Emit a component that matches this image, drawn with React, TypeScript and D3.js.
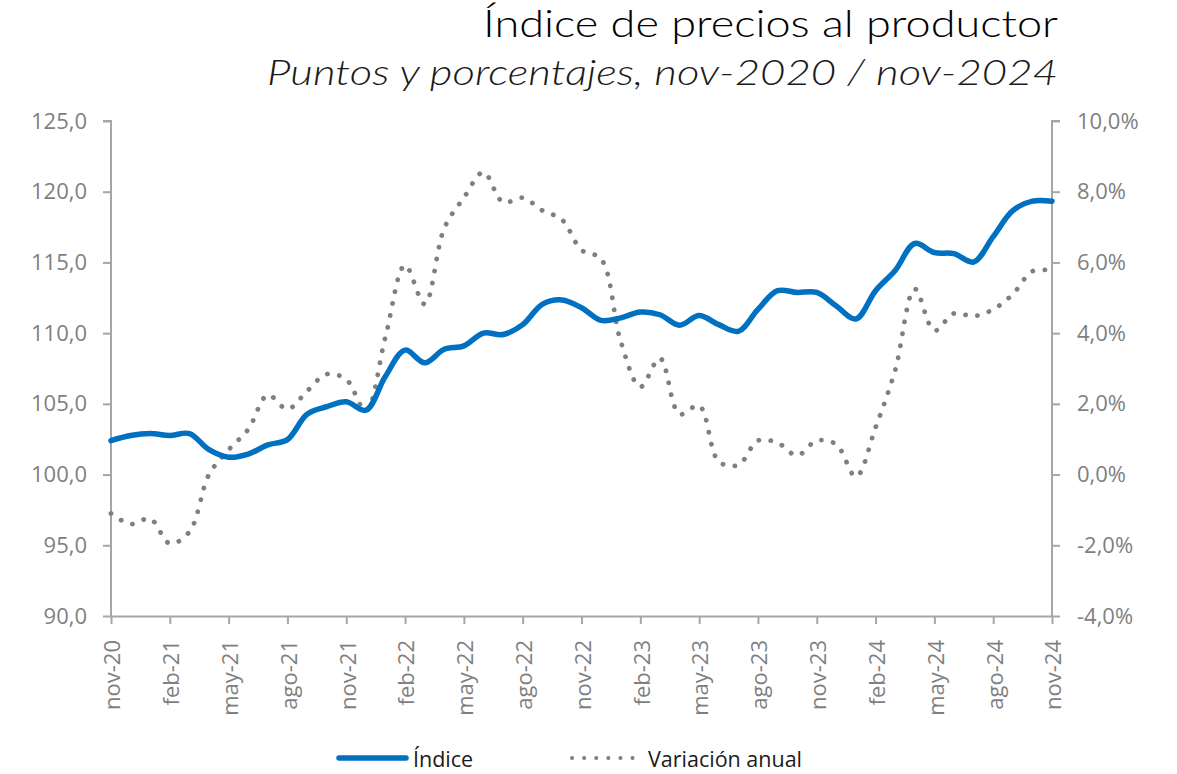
import React, { useEffect, useRef } from 'react';
import * as d3 from 'd3';

const WIDTH = 1177;
const HEIGHT = 774;
const PLOT = { left: 111, right: 1052, top: 121, bottom: 616 };
const BLUE = "#0070C0";
const GREY = "#7F7F7F";
const AXIS = "#A6A6A6";
const FONT = "'Open Sans', sans-serif";
const LEGEND_Y = 758;

const MONTHS = [
    "nov-20", "dic-20", "ene-21", "feb-21", "mar-21", "abr-21", "may-21", "jun-21", "jul-21", "ago-21", "sep-21", "oct-21",
    "nov-21", "dic-21", "ene-22", "feb-22", "mar-22", "abr-22", "may-22", "jun-22", "jul-22", "ago-22", "sep-22", "oct-22",
    "nov-22", "dic-22", "ene-23", "feb-23", "mar-23", "abr-23", "may-23", "jun-23", "jul-23", "ago-23", "sep-23", "oct-23",
    "nov-23", "dic-23", "ene-24", "feb-24", "mar-24", "abr-24", "may-24", "jun-24", "jul-24", "ago-24", "sep-24", "oct-24",
    "nov-24",
];

const INDICE = [
    102.4, 102.76, 102.9, 102.76, 102.9, 101.76, 101.23, 101.45, 102.1, 102.47, 104.27, 104.8,
    105.15, 104.55, 106.95, 108.8, 107.9, 108.86, 109.1, 110.0, 109.9, 110.6, 112.04, 112.35,
    111.8, 110.9, 111.08, 111.49, 111.3, 110.56, 111.25, 110.6, 110.13, 111.68, 113.0, 112.88,
    112.88, 111.92, 111.0, 113.0, 114.43, 116.34, 115.7, 115.62, 115.03, 116.82, 118.66, 119.33,
    119.33,
];

const VARIACION = [
    -1.1, -1.4, -1.25, -1.95, -1.62, 0.0, 0.7, 1.28, 2.25, 1.85, 2.36, 2.84,
    2.69, 1.8, 3.9, 5.92, 4.82, 6.97, 7.83, 8.55, 7.7, 7.83, 7.47, 7.21,
    6.35, 6.1, 3.77, 2.48, 3.29, 1.71, 1.95, 0.37, 0.27, 0.96, 0.9, 0.54,
    0.96, 0.85, -0.06, 1.33, 2.95, 5.25, 4.07, 4.56, 4.48, 4.67, 5.1, 5.75,
    5.77,
];

const LEFT_TICKS = [90, 95, 100, 105, 110, 115, 120, 125];
const RIGHT_TICKS = [-4, -2, 0, 2, 4, 6, 8, 10];

// excel style: decimal comma, plain hyphen for negatives
const num = (d) => d.toFixed(1).replace(".", ",");

export default function App() {
    const svgRef = useRef(null);

    useEffect(() => {
        if (!svgRef.current) return;
        const svg = d3.select(svgRef.current);
        svg.selectAll("*").remove();

        const x = d3.scalePoint()
            .domain(MONTHS)
            .range([PLOT.left, PLOT.right]);

        const yLeft = d3.scaleLinear()
            .domain([90, 125])
            .range([PLOT.bottom, PLOT.top]);

        const yRight = d3.scaleLinear()
            .domain([-4, 10])
            .range([PLOT.bottom, PLOT.top]);

        // left axis
        const gl = svg.append("g")
            .attr("transform", `translate(${PLOT.left},0)`)
            .call(d3.axisLeft(yLeft).tickValues(LEFT_TICKS).tickSize(8).tickPadding(16).tickFormat(num));

        // right axis
        const gr = svg.append("g")
            .attr("transform", `translate(${PLOT.right},0)`)
            .call(d3.axisRight(yRight).tickValues(RIGHT_TICKS).tickSize(8).tickPadding(17).tickFormat(d => num(d) + "%"));

        // bottom axis
        const gb = svg.append("g")
            .attr("transform", `translate(0,${PLOT.bottom})`)
            .call(d3.axisBottom(x).tickValues(MONTHS.filter((_, i) => i % 3 === 0)).tickSize(8).tickSizeOuter(0));

        gb.selectAll("text")
            .attr("transform", "rotate(-90)")
            .attr("text-anchor", "end")
            .attr("x", -24)
            .attr("y", 0)
            .attr("dy", "0.4em");

        [gl, gr, gb].forEach(g => {
            g.select(".domain").attr("stroke", AXIS).attr("stroke-width", 2);
            g.selectAll(".tick line").attr("stroke", AXIS).attr("stroke-width", 2);
            g.selectAll("text")
                .attr("fill", GREY)
                .attr("font-family", FONT)
                .attr("font-size", 22);
        });
        gl.select(".domain").attr("d", `M-8,${PLOT.top}H0V${PLOT.bottom}`);
        gr.select(".domain").attr("d", `M8,${PLOT.top}H0V${PLOT.bottom}`);

        // variación anual (dotted, right axis)
        const lineRight = d3.line()
            .x((_, i) => x(MONTHS[i]))
            .y(d => yRight(d))
            .curve(d3.curveCatmullRom.alpha(0.5));

        svg.append("path")
            .datum(VARIACION)
            .attr("d", lineRight)
            .attr("fill", "none")
            .attr("stroke", GREY)
            .attr("stroke-width", 4.8)
            .attr("stroke-linecap", "round")
            .attr("stroke-dasharray", "0.1 12");

        // índice (solid, left axis)
        const lineLeft = d3.line()
            .x((_, i) => x(MONTHS[i]))
            .y(d => yLeft(d))
            .curve(d3.curveCatmullRom.alpha(0.5));

        svg.append("path")
            .datum(INDICE)
            .attr("d", lineLeft)
            .attr("fill", "none")
            .attr("stroke", BLUE)
            .attr("stroke-width", 5.5)
            .attr("stroke-linecap", "round")
            .attr("stroke-linejoin", "round");

        return () => {
            svg.selectAll("*").remove();
        };
    }, []);

    return (
        <svg width={WIDTH} height={HEIGHT} style={{ position: "absolute", left: 0, top: 0, background: "#fff" }}>
            <text x={1058} y={37} textAnchor="end" fontFamily="Lato, sans-serif" fontWeight={300} fontSize={37}
                fill="#000" textLength={575} lengthAdjust="spacingAndGlyphs">Índice de precios al productor</text>
            <text x={1058} y={85} textAnchor="end" fontFamily="Lato, sans-serif" fontWeight={300} fontStyle="italic" fontSize={35}
                fill="#1a1a1a" textLength={791} lengthAdjust="spacingAndGlyphs">Puntos y porcentajes, nov-2020 / nov-2024</text>
            <g ref={svgRef}></g>
            <g fontFamily={FONT} fontSize={21.5} fill="#1a1a1a">
                <line x1={339} x2={406} y1={LEGEND_Y} y2={LEGEND_Y} stroke={BLUE} strokeWidth={5.5} strokeLinecap="round" />
                <text x={413} y={LEGEND_Y} dominantBaseline="central">Índice</text>
                <line x1={572} x2={634} y1={LEGEND_Y} y2={LEGEND_Y} stroke={GREY} strokeWidth={4} strokeLinecap="round" strokeDasharray="0.1 12" />
                <text x={648} y={LEGEND_Y} dominantBaseline="central">Variación anual</text>
            </g>
        </svg>
    );
}
